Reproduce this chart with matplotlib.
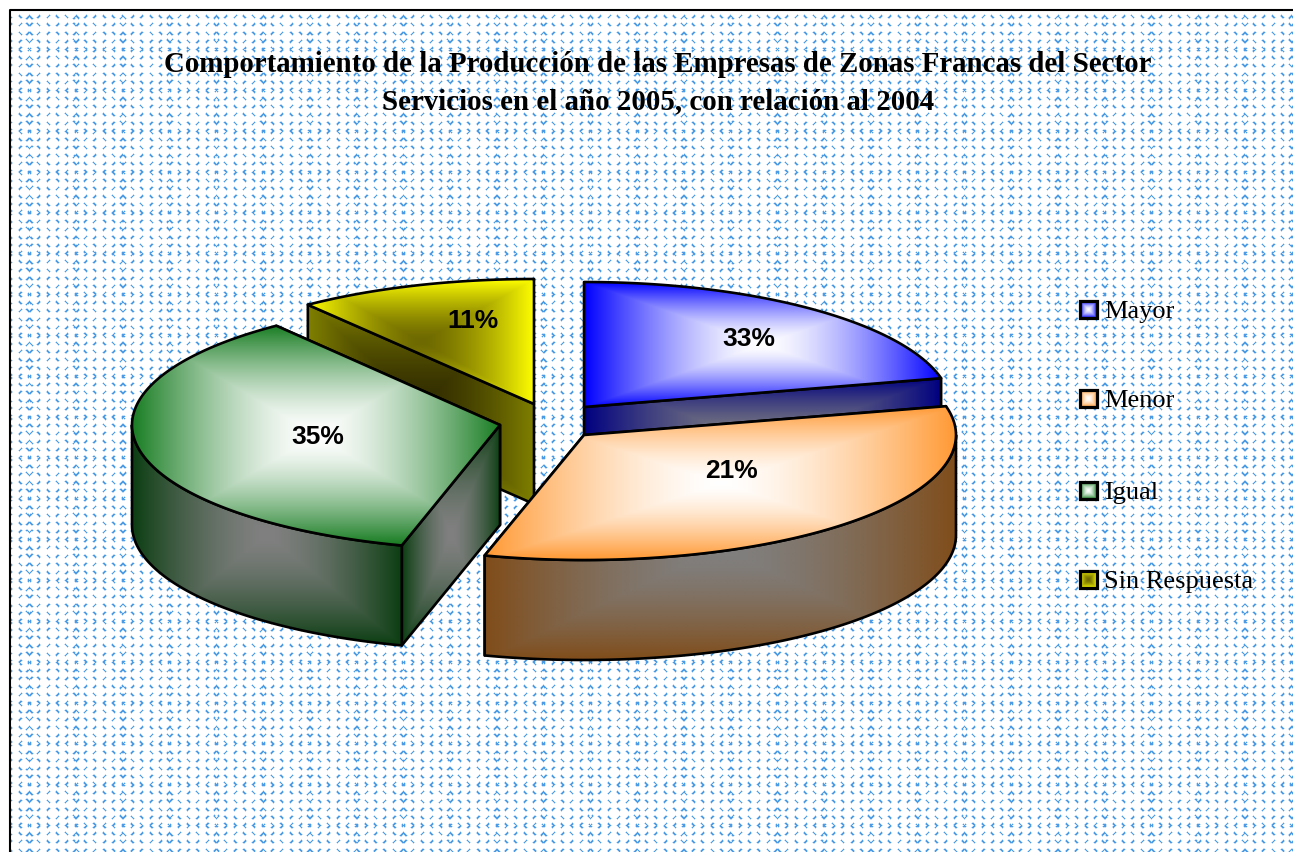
import numpy as np
import matplotlib
matplotlib.use('Agg')
import matplotlib.pyplot as plt
from matplotlib.patches import Polygon

title_lines = ['Comportamiento de la Producción de las Empresas de Zonas Francas del Sector',
               'Servicios en el año 2005, con relación al 2004']
categories = ['Mayor', 'Menor', 'Igual', 'Sin Respuesta']
# the drawn slice shares do not agree with the printed percentages in the original
shares = [21.3, 33.0, 35.3, 10.4]
pct_labels = ['33%', '21%', '35%', '11%']

W, H = 1293, 852
top_edge = [(0, 0, 255), (255, 153, 51), (25, 125, 35), (255, 255, 0)]
top_mid = [(255, 255, 255), (255, 255, 255), (255, 255, 255), (110, 105, 0)]
side_edge = [(0, 0, 128), (128, 77, 26), (12, 62, 18), (128, 128, 0)]
side_mid = [(128, 128, 128), (128, 128, 128), (128, 128, 128), (50, 45, 0)]

# layout, in pixels
apex = [(584, 407), (584, 435), (500, 425), (534, 404)]
rx = [367, 372, 368, 372]
ry = 125
depth = 100
label_xy = [(749, 339), (731, 471), (318, 437), (473, 321)]
legend_y = [310, 399, 491, 580]


def background():
    # the 5 x 5 cell texture of the chart area
    cover = np.zeros((H + 8, W + 8))

    def stroke(pts):
        for (xa, ya), (xb, yb) in zip(pts[:-1], pts[1:]):
            for f in np.linspace(0, 1, 9):
                px = int(round(xa + (xb - xa) * f)) + 4
                py = int(round(ya + (yb - ya) * f)) + 4
                if 0 <= px < W + 8 and 0 <= py < H + 8:
                    cover[py, px] = 1

    for r in range(-4, 100):
        y = 49 + r * 8.17
        k = r % 5
        s = 1 if k % 2 else -1
        for c in range(-3, 136):
            x = 29 + c * 9.35
            j = c % 5
            if j == 0 and k == 0:
                stroke([(x - 1, y - 1), (x + 1, y + 1)])
                stroke([(x - 1, y + 1), (x + 1, y - 1)])
            elif j == 0:
                stroke([(x - 2.5, y + s * 1.5), (x, y - s), (x + 2.5, y + s * 1.5)])
            elif k == 0:
                d = 1 if j < 3 else -1
                stroke([(x - d, y - 2), (x + d, y), (x - d, y + 2)])
            elif j < 3:
                stroke([(x - 1, y + s), (x + 1, y - s)])
            else:
                stroke([(x - 1, y - s), (x + 1, y + s)])
    soft = cover.copy()
    for ox, oy, w in [(1, 0, .3), (-1, 0, .3), (0, 1, .3), (0, -1, .3)]:
        soft = np.maximum(soft, np.roll(np.roll(cover, ox, axis=1), oy, axis=0) * w)
    soft = soft[4:-4, 4:-4, None]
    ink = np.array([75, 155, 230]) / 255.0
    img = 1 - soft * (1 - ink)
    img[:9, :] = 1
    img[:, :10] = 1
    return img


def box_gradient(edge, mid):
    u = np.linspace(-1, 1, 200)
    t = np.maximum(np.abs(u)[None, :], np.abs(u)[:, None])[..., None] ** 1.5
    return (np.array(mid) + (np.array(edge) - np.array(mid)) * t) / 255.0


def arc(c, a, t1, t2, dy=0):
    t = np.radians(np.linspace(t1, t2, 160))
    return np.column_stack([c[0] + a * np.sin(t), c[1] - ry * np.cos(t) + dy])


def fill(ax, pts, edge, mid, z):
    x0, y0 = pts.min(axis=0)
    x1, y1 = pts.max(axis=0)
    im = ax.imshow(box_gradient(edge, mid), extent=(x0, x1, y1, y0), aspect='auto', zorder=z, interpolation='bilinear')
    pg = Polygon(pts, closed=True, fc='none', ec='black', lw=1.9, zorder=z + 0.5, joinstyle='round')
    ax.add_patch(pg)
    im.set_clip_path(pg)


fig = plt.figure(figsize=(W / 100, H / 100), dpi=100)
ax = fig.add_axes([0, 0, 1, 1])
ax.imshow(background(), extent=(0, W, H, 0), aspect='auto', interpolation='nearest', zorder=0)
ax.plot([10, 10, W], [H, 9.5, 9.5], color='black', lw=1.5, zorder=1)

ends = np.cumsum(shares) * 3.6
starts = ends - np.array(shares) * 3.6
z = 2
for i in [3, 0, 2, 1]:
    c, a = apex[i], rx[i]
    t1, t2 = starts[i], ends[i]
    # the two cut faces, then the rim, then the top
    for t in (t2, t1):
        p = arc(c, a, t, t, 0)[0]
        if abs(p[0] - c[0]) > 1:
            face = np.array([c, p, p + (0, depth), np.array(c) + (0, depth)])
            fill(ax, face, side_edge[i], side_mid[i], z)
            z += 1
    lo, hi = max(t1, 90), min(t2, 270)
    if lo < hi:
        rim = np.vstack([arc(c, a, lo, hi), arc(c, a, hi, lo, depth)])
        fill(ax, rim, side_edge[i], side_mid[i], z)
        z += 1
    top = np.vstack([[c], arc(c, a, t1, t2)])
    fill(ax, top, top_edge[i], top_mid[i], z)
    z += 1

for i, lab in enumerate(pct_labels):
    ax.text(label_xy[i][0], label_xy[i][1], lab, family='Liberation Sans', weight='bold', fontsize=19,
            ha='center', va='center', color='black', zorder=z + 1)

for i, name in enumerate(categories):
    y = legend_y[i]
    sq = np.array([(1080, y - 9), (1097, y - 9), (1097, y + 8), (1080, y + 8)])
    im = ax.imshow(box_gradient(top_edge[i], top_mid[i]), extent=(1080, 1097, y + 8, y - 9), aspect='auto', zorder=z)
    pg = Polygon(sq, closed=True, fc='none', ec='black', lw=2.3, zorder=z + 0.5)
    ax.add_patch(pg)
    im.set_clip_path(pg)
    ax.text(1104, y + 2, name, family='Liberation Serif', fontsize=19, ha='left', va='center', color='black', zorder=z + 1)

ax.text(658, 65, title_lines[0], family='Liberation Serif', weight='bold', fontsize=20.8, ha='center', va='center', zorder=z + 1)
ax.text(658, 102, title_lines[1], family='Liberation Serif', weight='bold', fontsize=20.8, ha='center', va='center', zorder=z + 1)

ax.set_xlim(0, W)
ax.set_ylim(H, 0)
ax.axis('off')
fig.savefig('out.png', dpi=100)
